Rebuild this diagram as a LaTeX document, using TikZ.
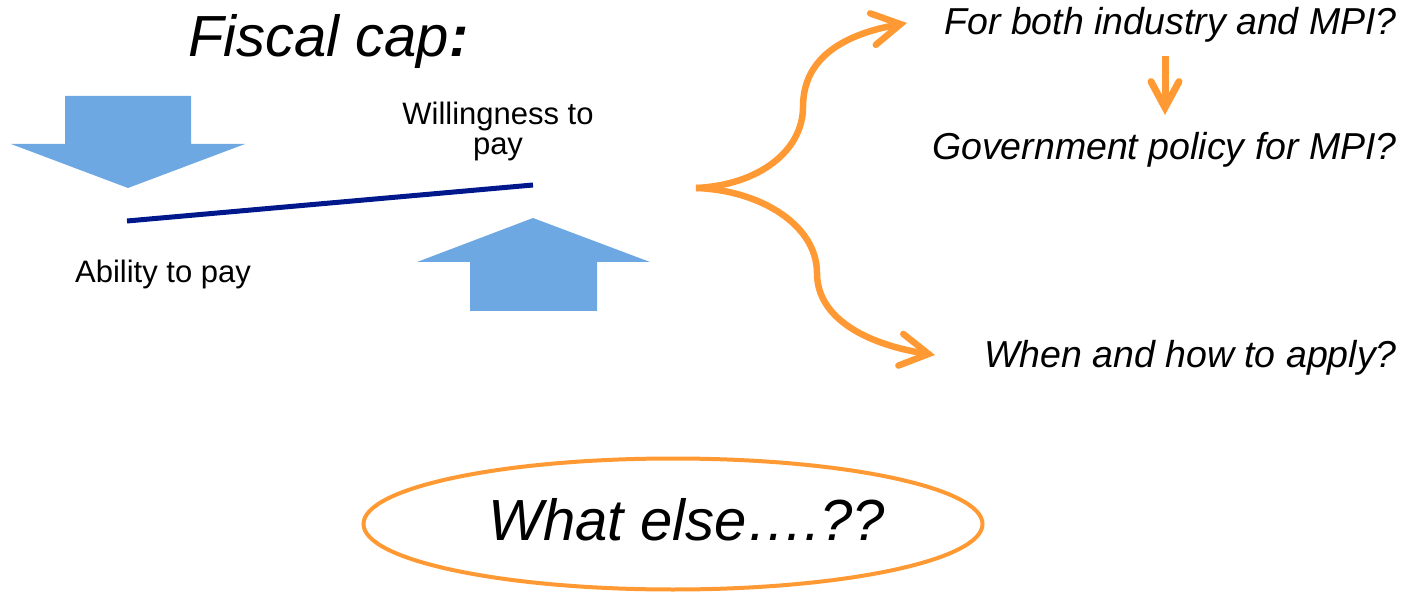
\documentclass[tikz,border=0pt]{standalone}
\usepackage{fontspec}
\setmainfont{Liberation Sans}
\usetikzlibrary{arrows.meta,shapes.geometric}
\definecolor{arrowblue}{RGB}{110,168,226}
\definecolor{navyline}{RGB}{0,24,140}
\definecolor{orangeline}{RGB}{255,153,51}
\begin{document}
\begin{tikzpicture}[x=1pt,y=-1pt,
  label30/.style={inner sep=0pt, anchor=base, font=\fontsize{31}{31}\selectfont},
  question/.style={inner sep=0pt, anchor=base east, font=\fontsize{37.5}{40}\selectfont\itshape},
  blockarrow/.style={fill=arrowblue},
  bracearrow/.style={draw=orangeline, line width=6.5pt, -{Straight Barb[length=28pt,width=32pt,line cap=round,line join=miter]}},
  smallarrow/.style={draw=orangeline, line width=7pt, -{Straight Barb[length=26pt,width=28pt,line cap=round,line join=miter]}}
]
\useasboundingbox (0,0) rectangle (1408,593);

% title
\node (title) [inner sep=0pt, anchor=base west, font=\fontsize{58}{60}\selectfont\itshape] at (188,57) {Fiscal cap\textbf{:}};

% block arrows
\fill[blockarrow] (65,96) -- (191,96) -- (191,144) -- (245,144) -- (128,188) -- (11,144) -- (65,144) -- cycle;
\fill[blockarrow] (470,311) -- (597,311) -- (597,262) -- (650,262) -- (533,218) -- (417,262) -- (470,262) -- cycle;

% balance line
\coordinate (lineleft) at (127,221);
\coordinate (lineright) at (533,185);
\draw[navyline, line width=5pt] (lineleft) -- (lineright);

% labels
\node (will1) [label30] at (498,125) {Willingness to};
\node (will2) [label30] at (498,155) {pay};
\node (ability) [label30] at (163,283) {Ability to pay};

% questions
\node (both) [question] at (1397,35) {For both industry and MPI?};
\node (gov) [question] at (1397,160) {Government policy for MPI?};
\node (when) [question] at (1397,368) {When and how to apply?};

% brace arrows
\coordinate (fork) at (696,188);
\coordinate (topend) at (907,23);
\coordinate (botend) at (935,355);
\draw[bracearrow] (fork) .. controls (760,185) and (803,150) .. (803,107) .. controls (803,60) and (840,35) .. (topend);
\draw[bracearrow] (fork) .. controls (760,190) and (817,225) .. (817,273) .. controls (817,320) and (870,345) .. (botend);

% small arrow
\coordinate (sa) at (1165,56);
\coordinate (sb) at (1165,115);
\draw[smallarrow] (sa) -- (sb);

% ellipse
\node (elseoval) [draw=orangeline, line width=4pt, ellipse, minimum width=619pt, minimum height=131pt, inner sep=0pt] at (673,524) {};
\node (elsetext) [inner sep=0pt, anchor=base, font=\fontsize{58}{60}\selectfont\itshape] at (687,540) {What else….??};
\end{tikzpicture}
\end{document}
